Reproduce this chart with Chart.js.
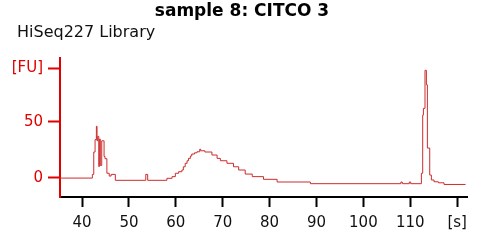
<!DOCTYPE html>
<html>
<head>
<meta charset="utf-8">
<script src="https://cdn.jsdelivr.net/npm/chart.js@4"></script>
<style>
  body { margin: 0; background: #fff; }
  #wrap { width: 483px; height: 244px; }
</style>
</head>
<body>
<div id="wrap"><canvas id="chart"></canvas></div>
<script>
// electropherogram trace: time [s] and fluorescence [FU]
const timeS = [
  35.3, 42.2, 42.5, 42.78, 43.06, 43.2, 43.35, 43.57, 43.7, 43.9, 44.2, 44.7, 44.9, 45.3, 45.8, 46.2, 47.1,
  53.6, 54.0,
  58.1, 59.2, 59.9, 60.6, 61.3, 61.6, 62.0, 62.4, 62.7, 63.1, 63.4, 64.0, 64.5, 65.1, 65.3, 66.2,
  67.7, 68.8, 69.5, 70.9, 72.3, 73.4, 74.8, 76.3, 78.7, 81.6, 88.7,
  108.0, 108.3, 109.8, 110.1,
  112.37, 112.65, 112.8, 113.14, 113.44, 113.65, 114.15, 114.5, 115.07, 116.0, 117.2, 121.8
];
const fluorescence = [
  -0.3, 3, 23, 34, 46, 33, 37, 10, 34.5, 11, 33, 19, 17, 4, 1.5, 3, -2.3,
  3, -2.3,
  -0.5, 1, 4, 5.4, 6.9, 9.8, 12.9, 15.2, 17.3, 19.4, 21.2, 22.3, 23.2, 25.5, 24.1, 23,
  20.3, 17.3, 15.2, 12.9, 9.8, 6.9, 3.3, 1, -1.4, -3.8, -5.3,
  -3.8, -5.3, -3.8, -5.3,
  4, 56, 62, 96, 83, 26.5, 2.4, -2, -3.6, -4.5, -6, -6
];

// axis ticks; the last one on each axis carries the unit instead of a number
const xTicks = [40, 50, 60, 70, 80, 90, 100, 110, 120];
const xTickLabels = ["40", "50", "60", "70", "80", "90", "100", "110", "[s]"];
const yTicks = [0, 50, 98];
const yTickLabels = ["0", "50", "[FU]"];

const points = timeS.map((t, i) => ({ x: t, y: fluorescence[i] }));

const ctx = document.getElementById("chart").getContext("2d");
new Chart(ctx, {
  type: "line",
  data: {
    datasets: [
      {
        label: "HiSeq227 Library",
        data: points,
        borderColor: "rgb(204, 45, 45)",
        borderWidth: 1,
        pointRadius: 0,
        stepped: true,
        fill: false,
      },
    ],
  },
  options: {
    responsive: true,
    maintainAspectRatio: false,
    animation: false,
    layout: { padding: { left: 17, right: 16, top: 0, bottom: 0 } },
    plugins: {
      legend: { display: false },
      tooltip: { enabled: false },
      title: {
        display: true,
        text: "sample 8: CITCO 3",
        color: "#000",
        font: { family: "DejaVu Sans", size: 17, weight: "bold" },
        padding: { top: 1, bottom: 0 },
      },
      subtitle: {
        display: true,
        text: "HiSeq227 Library",
        align: "start",
        color: "#111",
        font: { family: "DejaVu Sans", size: 16 },
        padding: { top: 1.5, bottom: 16 },
      },
    },
    scales: {
      x: {
        type: "linear",
        min: 35.3,
        max: 122.1,
        afterBuildTicks: (scale) => {
          scale.ticks = xTicks.map((v) => ({ value: v }));
        },
        afterFit: (scale) => {
          scale.height = 47;
        },
        ticks: {
          color: "#111",
          font: { family: "DejaVu Sans", size: 15 },
          padding: 7,
          maxRotation: 0,
          autoSkip: false,
          callback: (v) => xTickLabels[xTicks.indexOf(v)],
        },
        grid: {
          drawOnChartArea: false,
          drawTicks: true,
          tickLength: 10,
          tickColor: "#000",
          tickWidth: 2,
        },
        border: { color: "#000", width: 2 },
      },
      y: {
        min: -17.2,
        max: 106.9,
        afterBuildTicks: (scale) => {
          scale.ticks = yTicks.map((v) => ({ value: v }));
        },
        afterFit: (scale) => {
          scale.width = 43;
          // "[FU]" sticks out past the padding, so don't clip the labels
          scale._computeLabelArea = () => null;
        },
        ticks: {
          color: "#e00000",
          font: { family: "DejaVu Sans", size: 15 },
          padding: 5,
          autoSkip: false,
          callback: (v) => yTickLabels[yTicks.indexOf(v)],
        },
        grid: {
          drawOnChartArea: false,
          drawTicks: true,
          tickLength: 12,
          tickColor: "#e00000",
          tickWidth: 2,
        },
        border: { color: "#e00000", width: 2 },
      },
    },
  },
});
</script>
</body>
</html>
